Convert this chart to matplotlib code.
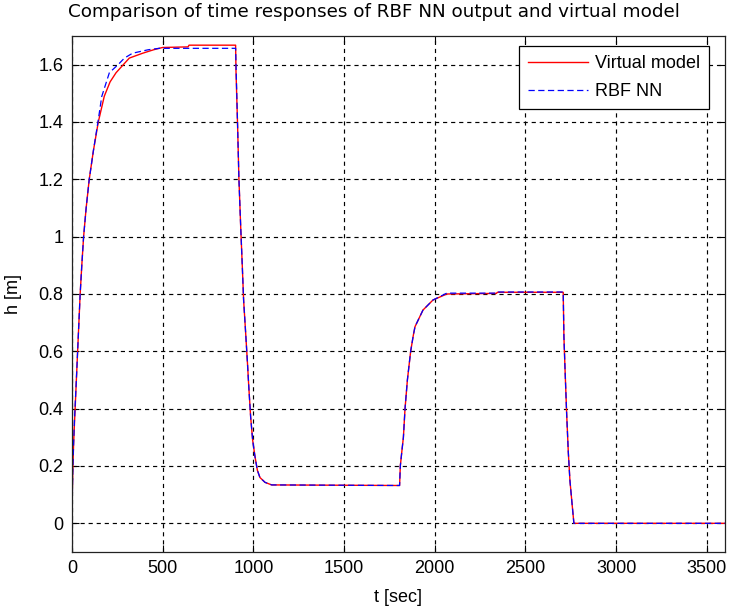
import matplotlib
matplotlib.use("Agg")
import matplotlib.pyplot as plt

# Virtual model response h(t)
t_model = [0, 2, 5, 9, 13, 18, 24, 31, 38, 45, 54, 64, 78, 95, 118, 145, 178, 210,
           243, 283, 316, 390, 450, 500, 640, 645, 902,
           904, 913, 920, 930, 939, 946, 957, 968, 975, 985, 996, 1009, 1022, 1036,
           1064, 1101, 1806,
           1810, 1820, 1827, 1836, 1849, 1867, 1882, 1891, 1935, 1990, 2066, 2340,
           2345, 2708,
           2712, 2718, 2727, 2736, 2745, 2756, 2767, 3600]
h_model = [0, 0.12, 0.2, 0.28, 0.34, 0.41, 0.5, 0.6, 0.7, 0.8, 0.9, 1.0, 1.1, 1.2,
           1.3, 1.4, 1.49, 1.54, 1.572, 1.6, 1.623, 1.64, 1.652, 1.66, 1.662, 1.668,
           1.668,
           1.58, 1.385, 1.206, 1.035, 0.895, 0.78, 0.668, 0.552, 0.472, 0.37, 0.29,
           0.232, 0.185, 0.16, 0.143, 0.134, 0.132,
           0.2, 0.26, 0.3, 0.4, 0.5, 0.6, 0.657, 0.686, 0.744, 0.779, 0.8, 0.802,
           0.806, 0.806,
           0.65, 0.54, 0.383, 0.25, 0.15, 0.074, 0.0, 0.0]

# RBF network output
t_rbf = [0, 2, 5, 9, 13, 18, 24, 31, 38, 45, 54, 64, 78, 95, 118, 143, 164, 206,
         254, 289, 334, 420, 480, 902,
         905, 913, 920, 930, 939, 946, 957, 968, 975, 985, 996, 1009, 1022, 1036,
         1064, 1101, 1806,
         1810, 1820, 1827, 1836, 1849, 1867, 1882, 1891, 1935, 1990, 2066, 2340,
         2345, 2708,
         2712, 2718, 2727, 2736, 2745, 2756, 2767, 3600]
h_rbf = [0, 0.1, 0.2, 0.28, 0.35, 0.42, 0.5, 0.6, 0.7, 0.8, 0.9, 1.0, 1.1, 1.2,
         1.3, 1.4, 1.489, 1.572, 1.6, 1.623, 1.64, 1.652, 1.657, 1.657,
         1.58, 1.385, 1.206, 1.035, 0.895, 0.78, 0.668, 0.552, 0.472, 0.37, 0.29,
         0.232, 0.185, 0.16, 0.143, 0.134, 0.132,
         0.2, 0.26, 0.3, 0.4, 0.5, 0.6, 0.657, 0.686, 0.744, 0.779, 0.803, 0.803,
         0.807, 0.807,
         0.65, 0.54, 0.383, 0.25, 0.15, 0.074, 0.0, 0.0]

x_ticks = [0, 500, 1000, 1500, 2000, 2500, 3000, 3500]
y_ticks = [0, 0.2, 0.4, 0.6, 0.8, 1.0, 1.2, 1.4, 1.6]
y_tick_labels = ["0", "0.2", "0.4", "0.6", "0.8", "1", "1.2", "1.4", "1.6"]

plt.rcParams["font.family"] = ["Liberation Sans", "DejaVu Sans"]
plt.rcParams["lines.scale_dashes"] = False

W, H = 729, 610
fig = plt.figure(figsize=(W / 100, H / 100), dpi=100)
L, R, T, B = 72, 725, 36, 552
ax = fig.add_axes([L / W, (H - B) / H, (R - L) / W, (B - T) / H])

ax.plot(t_model, h_model, color="#ff0000", lw=1.0, label="Virtual model")
ax.plot(t_rbf, h_rbf, color="#0000ff", lw=0.9, dashes=(4.5, 2.5), label="RBF NN")

ax.set_xlim(0, 3600)
ax.set_ylim(-0.1, 1.7)
ax.set_xticks(x_ticks)
ax.set_xticklabels([str(v) for v in x_ticks])
ax.set_yticks(y_ticks)
ax.set_yticklabels(y_tick_labels)

ax.grid(True, color="black", lw=0.85, dashes=(3.0, 2.8))
ax.tick_params(direction="in", top=True, right=True, length=5, width=0.8,
               labelsize=13, pad=6, colors="black")
for sp in ax.spines.values():
    sp.set_linewidth(0.9)
    sp.set_color("#222222")

# Title and axis labels placed in figure pixel coordinates
def px(x, y):
    return x / W, 1 - y / H

fig.text(*px(374, 12), "Comparison of time responses of RBF NN output and virtual model",
         fontsize=13.2, ha="center", va="center", family=["DejaVu Sans"])
fig.text(*px(398, 597), "t [sec]", fontsize=13, ha="center", va="center")
fig.text(*px(13, 294), "h [m]", fontsize=13, ha="center", va="center",
         rotation=90)

leg = ax.legend(loc="upper right", bbox_to_anchor=(0.9755, 0.9806),
                borderaxespad=0, fontsize=13, fancybox=False, framealpha=1,
                edgecolor="black", handlelength=3.3, handletextpad=0.4,
                borderpad=0.5, labelspacing=0.62)
leg.get_frame().set_linewidth(0.9)

fig.savefig("out.png", dpi=100, facecolor="white")
